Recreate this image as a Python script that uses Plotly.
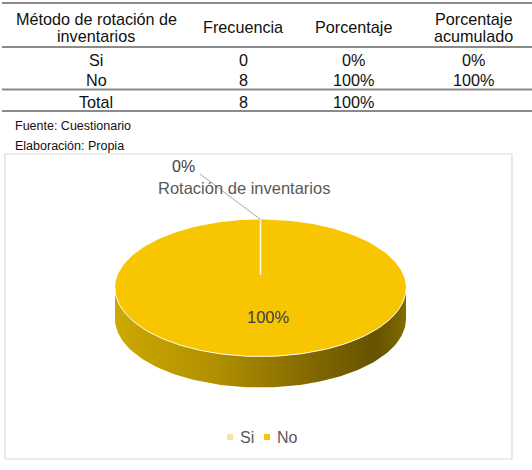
import numpy as np
import plotly.graph_objects as go

# ---------------- data ----------------
categories = ["Si", "No"]
frequencies = [0, 8]
percentages = ["0%", "100%"]
cumulative = ["0%", "100%"]
total_row = ["Total", "8", "100%", ""]
header = [["Método de rotación de", "inventarios"], ["Frecuencia"], ["Porcentaje"], ["Porcentaje", "acumulado"]]
source_notes = ["Fuente: Cuestionario", "Elaboración: Propia"]
chart_title = "Rotación de inventarios"
slice_colors = ["#F1E6A6", "#F7C600"]

# ---------------- layout params ----------------
W, H = 532, 470
FONT = "Arial, Liberation Sans, sans-serif"
col_x = [96, 243, 353, 473]
row_y = [60, 80, 101.5]
hdr_y_two = [18.5, 36]
hdr_y_one = 27
table_lines_y = [3, 47, 89.5, 111]

cx, cy, rx, ry, depth = 260.5, 288, 145.5, 68.5, 31
apex_y = 275

fig = go.Figure()
ann = []
shapes = []

# ---------------- table ----------------
for x, h in zip(col_x, header):
    ys = hdr_y_two if len(h) == 2 else [hdr_y_one]
    for t, y in zip(h, ys):
        ann.append(dict(x=x, y=y, text=t, showarrow=False, font=dict(size=16.2, color="#111", family=FONT)))
rows = [[c, str(f), p, cu] for c, f, p, cu in zip(categories, frequencies, percentages, cumulative)] + [total_row]
for y, r in zip(row_y, rows):
    for x, t in zip(col_x, r):
        if t:
            ann.append(dict(x=x, y=y, text=t, showarrow=False, font=dict(size=16.2, color="#111", family=FONT)))
for y in table_lines_y:
    shapes.append(dict(type="line", x0=2, x1=W, y0=y, y1=y, xref="x", yref="y",
                       line=dict(color="#8a8a8a", width=1.8)))
for i, t in enumerate(source_notes):
    ann.append(dict(x=13, y=126 + 20 * i, text=t, xanchor="left", showarrow=False,
                    font=dict(size=12.5, color="#111", family=FONT)))

# chart frame
shapes.append(dict(type="rect", x0=5, x1=512, y0=154, y1=459, xref="x", yref="y",
                   line=dict(color="#D9D9D9", width=1.2)))

# ---------------- 3D pie ----------------
total = sum(frequencies)
def ell(theta_deg, dy=0.0):
    t = np.radians(theta_deg)
    return cx + rx * np.cos(t), cy - ry * np.sin(t) + dy

# side (front half)
th = np.linspace(180, 360, 120)
tx, ty = ell(th)
bx, by = ell(th[::-1], depth)
fig.add_trace(go.Scatter(
    x=np.concatenate([tx, bx]), y=np.concatenate([ty, by]), mode="lines", fill="toself",
    line=dict(width=0), hoverinfo="skip",
    fillgradient=dict(type="horizontal", colorscale=[[0, "#CDA900"], [0.35, "#B08F00"], [0.7, "#7E6500"],
                                                     [0.9, "#665300"], [1, "#806A00"]])))

# top face slices
cum = 0
bounds = []
for cat, v, col in zip(categories, frequencies, slice_colors):
    a0 = 90 - 360 * cum / total
    a1 = 90 - 360 * (cum + v) / total
    bounds += [a0, a1]
    if v > 0:
        arc = np.linspace(a0, a1, 240)
        ax_, ay_ = ell(arc)
        fig.add_trace(go.Scatter(x=np.concatenate([[cx], ax_, [cx]]), y=np.concatenate([[apex_y], ay_, [apex_y]]),
                                 mode="lines", fill="toself", fillcolor=col, line=dict(width=0),
                                 hoverinfo="skip"))
    cum += v

# rim highlight
rx_, ry_ = ell(np.linspace(180, 360, 120))
fig.add_trace(go.Scatter(x=rx_, y=ry_, mode="lines", line=dict(color="rgba(255,255,250,0.9)", width=1),
                         hoverinfo="skip"))

# slice boundaries
for b in sorted(set(np.round(np.mod(bounds, 360), 6))):
    ex, ey = ell(b)
    fig.add_trace(go.Scatter(x=[cx, ex], y=[apex_y, ey], mode="lines",
                             line=dict(color="rgba(255,255,240,0.95)", width=1.5), hoverinfo="skip"))

# data labels
cum = 0
for cat, v, p in zip(categories, frequencies, percentages):
    mid = 90 - 360 * (cum + v / 2) / total
    if v / total > 0.05:
        lx, ly = ell(mid)
        lx = cx + (lx - cx) * 0.42
        ly = cy + (ly - cy) * 0.42
        ann.append(dict(x=lx + 8, y=ly, text=p, showarrow=False, font=dict(size=16.5, color="#404040", family=FONT)))
    else:
        ex, ey = ell(mid)
        fig.add_trace(go.Scatter(x=[200, ex], y=[174, ey], mode="lines",
                                 line=dict(color="#A6A6A6", width=1), hoverinfo="skip"))
        ann.append(dict(x=183.5, y=166.5, text=p, showarrow=False, font=dict(size=16, color="#404040", family=FONT)))
    cum += v

# title
ann.append(dict(x=243.5, y=188, text=chart_title, showarrow=False, font=dict(size=16.5, color="#595959", family=FONT)))

# legend
leg_x = [230, 267]
fig.add_trace(go.Scatter(x=leg_x, y=[437, 437], mode="markers",
                         marker=dict(symbol="square", size=6, color=slice_colors), hoverinfo="skip"))
for x, c in zip(leg_x, categories):
    ann.append(dict(x=x + 8, y=437, text=c, xanchor="left", showarrow=False,
                    font=dict(size=16, color="#595959", family=FONT)))

fig.update_layout(
    width=W, height=H, margin=dict(l=0, r=0, t=0, b=0),
    paper_bgcolor="white", plot_bgcolor="white", showlegend=False,
    xaxis=dict(range=[0, W], visible=False, fixedrange=True),
    yaxis=dict(range=[H, 0], visible=False, fixedrange=True),
    annotations=ann, shapes=shapes, hovermode=False,
)
fig.write_html("out.html")
